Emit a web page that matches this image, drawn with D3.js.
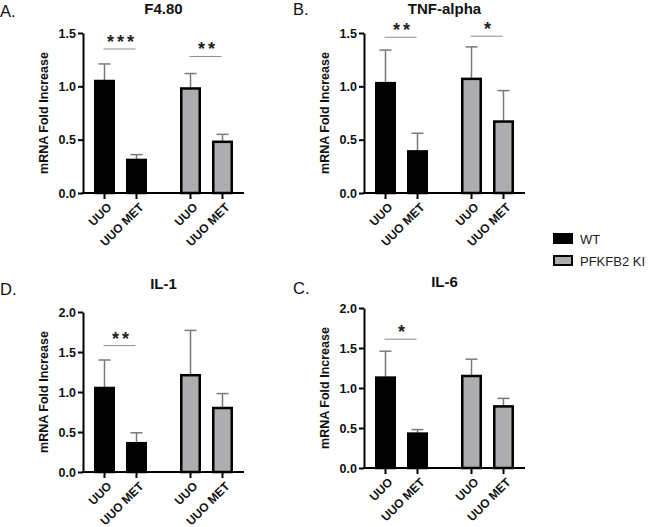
<!DOCTYPE html>
<html>
<head>
<meta charset="utf-8">
<script src="https://cdn.jsdelivr.net/npm/d3@7"></script>
<style>
  html, body { margin: 0; padding: 0; background: #fff; }
  svg { display: block; }
  text { font-family: "Liberation Sans", Arial, sans-serif; }
</style>
</head>
<body>
<svg id="chart" width="654" height="527"></svg>
<script>
// ---------- data ----------
const groups = ["WT", "PFKFB2 KI"];
const conditions = ["UUO", "UUO MET"];
const panelLetters = ["A.", "B.", "D.", "C."];
const panelTitles = ["F4.80", "TNF-alpha", "IL-1", "IL-6"];

const yMaxA = 1.5, yMaxB = 1.5, yMaxD = 2.0, yMaxC = 2.0;
const ticks15 = [0, 0.5, 1.0, 1.5];
const ticks20 = [0, 0.5, 1.0, 1.5, 2.0];

// means and (upper) SEM, per group
const f480WT = [1.05, 0.31];   const f480WTErr = [0.16, 0.05];
const f480KI = [0.98, 0.48];   const f480KIErr = [0.14, 0.07];
const tnfWT  = [1.03, 0.39];   const tnfWTErr  = [0.31, 0.17];
const tnfKI  = [1.07, 0.67];   const tnfKIErr  = [0.30, 0.29];
const il1WT  = [1.05, 0.36];   const il1WTErr  = [0.35, 0.13];
const il1KI  = [1.21, 0.80];   const il1KIErr  = [0.56, 0.18];
const il6WT  = [1.13, 0.43];   const il6WTErr  = [0.33, 0.05];
const il6KI  = [1.15, 0.77];   const il6KIErr  = [0.21, 0.10];

// significance: [group, stars, bracket height in data units]
const f480Sig = [["WT", "***", 1.35], ["PFKFB2 KI", "**", 1.28]];
const tnfSig  = [["WT", "**", 1.46], ["PFKFB2 KI", "*", 1.47]];
const il1Sig  = [["WT", "**", 1.58]];
const il6Sig  = [["WT", "*", 1.61]];

// ---------- layout ----------
const svg = d3.select("#chart");
const axisLen = 161, axisH = 160;
const colors = { "WT": "#000000", "PFKFB2 KI": "#adadb0" };

const panels = [
  { x0: 83,  y0: 193, ymax: yMaxA, ticks: ticks15, wt: f480WT, wtE: f480WTErr, ki: f480KI, kiE: f480KIErr, sig: f480Sig, letterY: 17, titleY: 14 },
  { x0: 364, y0: 193, ymax: yMaxB, ticks: ticks15, wt: tnfWT, wtE: tnfWTErr, ki: tnfKI, kiE: tnfKIErr, sig: tnfSig, letterY: 15, titleY: 14 },
  { x0: 83,  y0: 472, ymax: yMaxD, ticks: ticks20, wt: il1WT, wtE: il1WTErr, ki: il1KI, kiE: il1KIErr, sig: il1Sig, letterY: 295, titleY: 289 },
  { x0: 364, y0: 468, ymax: yMaxC, ticks: ticks20, wt: il6WT, wtE: il6WTErr, ki: il6KI, kiE: il6KIErr, sig: il6Sig, letterY: 294, titleY: 287 }
];

panels.forEach((p, i) => {
  const g = svg.append("g").attr("transform", `translate(${p.x0},${p.y0 - axisH})`);

  const xg = d3.scaleBand().domain(groups).range([0, axisLen])
    .paddingInner(0.384).paddingOuter(0.128);
  const xc = d3.scaleBand().domain(conditions).range([0, xg.bandwidth()])
    .paddingInner(0.344).paddingOuter(0);
  const y = d3.scaleLinear().domain([0, p.ymax]).range([axisH, 0]);

  const rows = [];
  groups.forEach((gr, gi) => {
    const means = gi === 0 ? p.wt : p.ki;
    const errs = gi === 0 ? p.wtE : p.kiE;
    conditions.forEach((c, ci) => rows.push({ group: gr, cond: c, mean: means[ci], err: errs[ci] }));
  });
  const bx = d => xg(d.group) + xc(d.cond);
  const cx = d => bx(d) + xc.bandwidth() / 2;

  // error bars (upper only)
  const eb = g.append("g").attr("stroke", "#7a7a7a").attr("stroke-width", 1.5);
  eb.selectAll("line.v").data(rows).join("line")
    .attr("x1", cx).attr("x2", cx)
    .attr("y1", d => y(d.mean)).attr("y2", d => y(d.mean + d.err));
  eb.selectAll("line.c").data(rows).join("line")
    .attr("x1", d => cx(d) - 6).attr("x2", d => cx(d) + 6)
    .attr("y1", d => y(d.mean + d.err)).attr("y2", d => y(d.mean + d.err));

  // bars
  g.selectAll("rect.bar").data(rows).join("rect")
    .attr("class", "bar")
    .attr("x", d => bx(d) + 1.25)
    .attr("width", xc.bandwidth() - 2.5)
    .attr("y", d => y(d.mean))
    .attr("height", d => y(0) - y(d.mean))
    .attr("fill", d => colors[d.group])
    .attr("stroke", "#000").attr("stroke-width", 2.5);

  // y axis
  const ya = g.append("g").call(d3.axisLeft(y).tickValues(p.ticks)
    .tickFormat(d3.format(".1f")).tickSize(5).tickSizeOuter(0).tickPadding(2));
  ya.select(".domain").attr("stroke-width", 2);
  ya.selectAll(".tick line").attr("stroke-width", 2);
  ya.selectAll(".tick text").attr("font-size", 12.5).attr("font-weight", "bold")
    .attr("font-family", "Liberation Sans, Arial, sans-serif").attr("fill", "#111");

  // x axis
  g.append("line").attr("x1", -1).attr("x2", axisLen).attr("y1", y(0)).attr("y2", y(0))
    .attr("stroke", "#000").attr("stroke-width", 2);
  g.selectAll("line.xt").data(rows).join("line")
    .attr("x1", cx).attr("x2", cx).attr("y1", y(0)).attr("y2", y(0) + 6)
    .attr("stroke", "#000").attr("stroke-width", 2);
  g.selectAll("text.xl").data(rows).join("text")
    .attr("transform", d => `translate(${cx(d) + 2},${y(0) + 9}) rotate(-45)`)
    .attr("text-anchor", "end").attr("dy", "0.7em")
    .attr("font-size", 12).attr("font-weight", "bold").attr("fill", "#111")
    .text(d => d.cond);

  // y label
  g.append("text")
    .attr("transform", `translate(-35,${axisH / 2}) rotate(-90)`)
    .attr("text-anchor", "middle").attr("font-size", 12.5).attr("font-weight", "bold").attr("fill", "#111")
    .text("mRNA Fold Increase");

  // significance
  p.sig.forEach(([gr, stars, h]) => {
    const a = xg(gr) + xc(conditions[0]) + xc.bandwidth() / 2;
    const b = xg(gr) + xc(conditions[1]) + xc.bandwidth() / 2;
    g.append("line").attr("x1", a - 1).attr("x2", b - 1).attr("y1", y(h)).attr("y2", y(h))
      .attr("stroke", "#8c8c8c").attr("stroke-width", 1);
    g.append("text").attr("x", (a + b) / 2 + 1.5).attr("y", y(h) - 1)
      .attr("text-anchor", "middle").attr("font-size", 18).attr("font-weight", "bold")
      .attr("letter-spacing", 3).attr("fill", "#222").text(stars);
  });

  // titles and letters
  svg.append("text").attr("x", p.x0 + axisLen / 2).attr("y", p.titleY)
    .attr("text-anchor", "middle").attr("font-size", 15).attr("font-weight", "bold").attr("fill", "#111")
    .text(panelTitles[i]);
  svg.append("text").attr("x", p.x0 === 83 ? 0 : 293).attr("y", p.letterY)
    .attr("font-size", 16.5).attr("font-family", "Open Sans, sans-serif").attr("fill", "#111")
    .text(panelLetters[i]);
});

// legend
const lg = svg.append("g").attr("transform", "translate(554,234)");
groups.forEach((gr, i) => {
  lg.append("rect").attr("x", 0).attr("y", i * 22).attr("width", 18).attr("height", 9)
    .attr("fill", colors[gr]).attr("stroke", "#000").attr("stroke-width", 2);
  lg.append("text").attr("x", 26).attr("y", i * 22 + 9.5)
    .attr("font-size", 13).attr("fill", "#222").text(gr);
});
</script>
</body>
</html>
